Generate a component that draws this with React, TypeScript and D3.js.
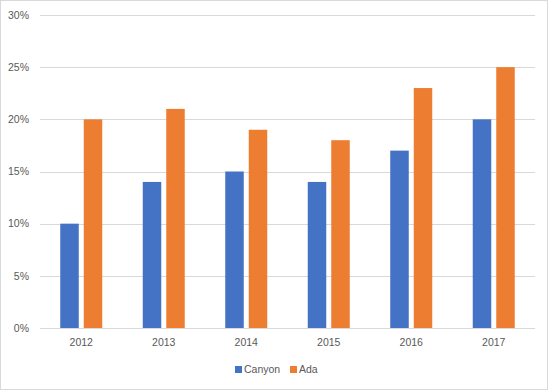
import React from 'react';
import * as d3 from 'd3';

const years = ['2012', '2013', '2014', '2015', '2016', '2017'];
const canyon = [10, 14, 15, 14, 17, 20];
const ada = [20, 21, 19, 18, 23, 25];
const yTicks = [0, 5, 10, 15, 20, 25, 30];

const seriesNames = ['Canyon', 'Ada'];
const seriesColors = ['#4472c4', '#ed7d31'];

const W = 549;
const H = 391;
const plot = { left: 40, right: 535, top: 15, bottom: 328 };
const font = '"Liberation Sans", Arial, sans-serif';

export default function App() {
  const x = d3.scaleBand<string>()
    .domain(years)
    .range([plot.left, plot.right])
    .paddingInner(0)
    .paddingOuter(0);

  const y = d3.scaleLinear().domain([0, 30]).range([plot.bottom, plot.top]);

  const barW = 18.5;
  const innerGap = 5;
  const series = [canyon, ada];

  return (
    <div style={{ position: 'absolute', left: 0, top: 0 }}>
      <svg width={W} height={H} style={{ display: 'block', fontFamily: font }}>
        <rect x={0.5} y={0.5} width={547} height={389} fill="#fff" stroke="#d9d9d9" />

        {/* gridlines + y labels */}
        {yTicks.map(t => (
          <g key={t}>
            <line x1={plot.left} x2={plot.right} y1={Math.round(y(t)) + 0.5} y2={Math.round(y(t)) + 0.5}
              stroke="#d9d9d9" strokeWidth={1} />
            <text x={29} y={y(t)} dy="0.35em" textAnchor="end" fontSize={10.5} fill="#595959">
              {t}%
            </text>
          </g>
        ))}

        {/* bars */}
        {series.map((vals, si) => (
          <g key={si}>
            {vals.map((v, i) => {
              const c = x(years[i])! + x.bandwidth() / 2;
              const bx = si === 0 ? c - innerGap / 2 - barW : c + innerGap / 2;
              return (
                <rect key={i} x={bx} y={y(v)} width={barW} height={y(0) - y(v)}
                  fill={seriesColors[si]} />
              );
            })}
          </g>
        ))}

        {/* baseline */}
        <line x1={plot.left} x2={plot.right} y1={plot.bottom + 0.5} y2={plot.bottom + 0.5}
          stroke="#d9d9d9" strokeWidth={1} />

        {/* x labels */}
        {years.map(yr => (
          <text key={yr} x={x(yr)! + x.bandwidth() / 2} y={346} textAnchor="middle"
            fontSize={10.5} fill="#595959">
            {yr}
          </text>
        ))}

        {/* legend */}
        <g>
          <rect x={235} y={366} width={7} height={7} fill={seriesColors[0]} />
          <text x={244} y={373} fontSize={10.5} fill="#595959">{seriesNames[0]}</text>
          <rect x={290} y={366} width={7} height={7} fill={seriesColors[1]} />
          <text x={299} y={373} fontSize={10.5} fill="#595959">{seriesNames[1]}</text>
        </g>
      </svg>
    </div>
  );
}
